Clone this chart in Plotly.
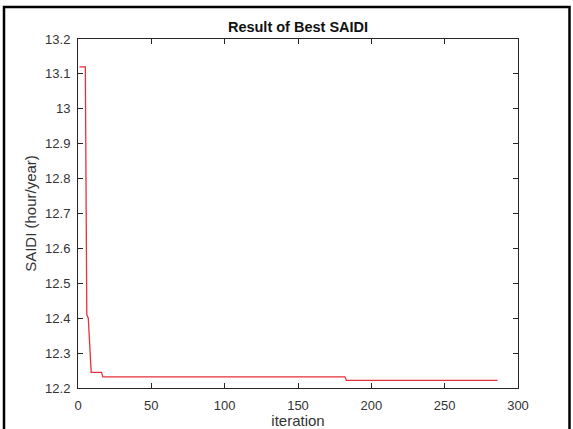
import plotly.graph_objects as go

# Breakpoints of the best-so-far SAIDI curve (iteration, value)
iterations = [1, 5, 6, 7, 9, 16, 17, 182, 183, 286]
saidi = [13.12, 13.12, 12.41, 12.40, 12.245, 12.245, 12.232, 12.232, 12.222, 12.222]

x_ticks = [0, 50, 100, 150, 200, 250, 300]
y_ticks = [12.2, 12.3, 12.4, 12.5, 12.6, 12.7, 12.8, 12.9, 13.0, 13.1, 13.2]
y_labels = ["12.2", "12.3", "12.4", "12.5", "12.6", "12.7", "12.8", "12.9", "13", "13.1", "13.2"]

FONT = "Liberation Sans, Arial"

fig = go.Figure()
fig.add_trace(go.Scatter(x=iterations, y=saidi, mode="lines",
                         line=dict(color="#e8303c", width=1.3), showlegend=False))

axis_common = dict(showline=True, linecolor="#262626", linewidth=1, mirror="ticks",
                   ticks="inside", ticklen=5, tickcolor="#262626", showgrid=False,
                   zeroline=False, automargin=False,
                   tickfont=dict(family=FONT, size=13, color="#333333"))

fig.update_layout(
    width=573, height=429,
    margin=dict(l=78, r=55, t=39, b=41),
    paper_bgcolor="white", plot_bgcolor="white",
    title=dict(text="<b>Result of Best SAIDI</b>", x=(78 + 518) / 2 / 573, xanchor="center",
               y=1 - 27 / 429, yanchor="middle",
               font=dict(family=FONT, size=14.5, color="#111111")),
    xaxis=dict(range=[0, 300], tickvals=x_ticks, ticktext=[str(v) for v in x_ticks],
               ticklabelstandoff=5,
               title=dict(text="iteration", standoff=4,
                          font=dict(family=FONT, size=15, color="#333333")),
               **axis_common),
    yaxis=dict(range=[12.2, 13.2], tickvals=y_ticks, ticktext=y_labels,
               ticklabelstandoff=4,
               title=dict(text="SAIDI (hour/year)", standoff=4,
                          font=dict(family=FONT, size=15, color="#333333")),
               **axis_common),
)

# outer black frame of the screenshot
fig.add_shape(type="rect", xref="paper", yref="paper",
              x0=(4 - 78) / 440, x1=(569.5 - 78) / 440,
              y0=-0.3, y1=(388 - 7) / 349,
              line=dict(color="black", width=2.5), layer="above")

fig.write_html("out.html")
